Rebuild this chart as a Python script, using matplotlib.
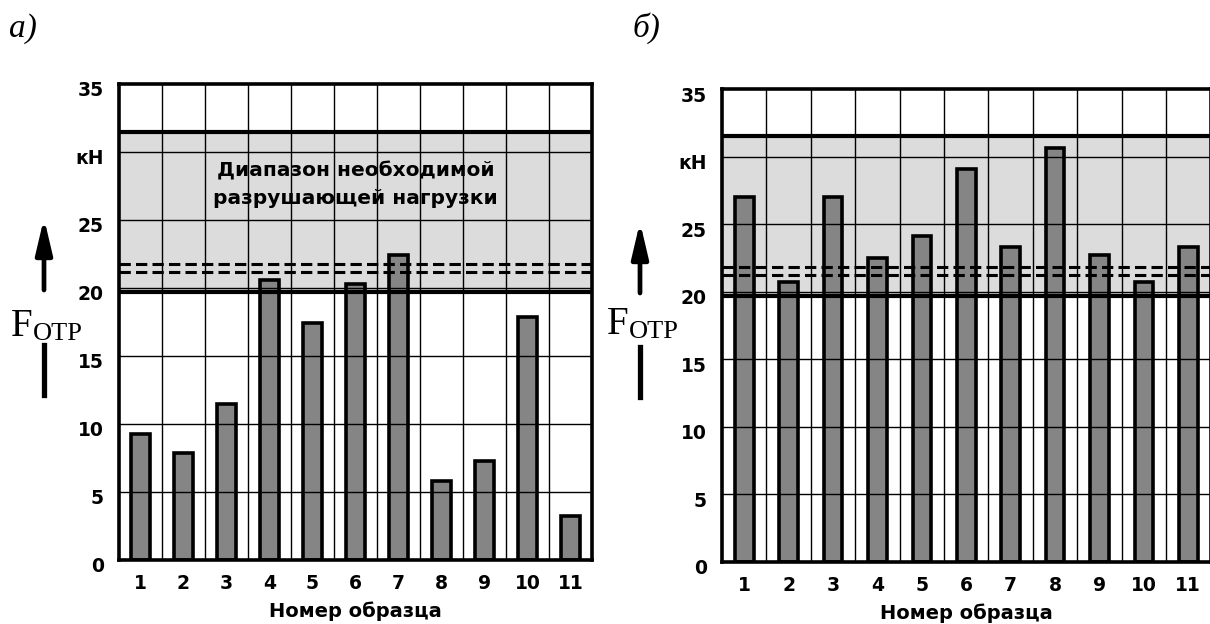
import matplotlib
matplotlib.use("Agg")
import matplotlib.pyplot as plt
from matplotlib.lines import Line2D
from matplotlib.transforms import ScaledTranslation

# sample numbers and measured breaking loads, kN
samples = [1, 2, 3, 4, 5, 6, 7, 8, 9, 10, 11]
load_a = [9.3, 7.9, 11.5, 20.6, 17.4, 20.3, 22.4, 5.8, 7.3, 17.9, 3.2]
load_b = [27.0, 20.7, 27.0, 22.5, 24.1, 29.1, 23.3, 30.6, 22.7, 20.7, 23.3]

# required load range and the two dashed reference levels
band_low, band_high = 19.7, 31.5
dashed_levels = [21.2, 21.8]

y_ticks = [0, 5, 10, 15, 20, 25, 30, 35]
y_labels = ["0", "5", "10", "15", "20", "25", "кН", "35"]
grid_y = [5, 10, 15, 20, 25, 30]

W, H = 1210, 624
fig = plt.figure(figsize=(W / 100, H / 100), dpi=100)
sans = "DejaVu Sans"


def px_rect(x0, x1, y_top, y_bot):
    return [x0 / W, 1 - y_bot / H, (x1 - x0) / W, (y_bot - y_top) / H]


def panel(rect, values, note=None):
    ax = fig.add_axes(rect)
    ax.set_xlim(0.5, 11.5)
    ax.set_ylim(0, 35)
    ax.axhspan(band_low, band_high, color="#dcdcdc", lw=0, zorder=0)
    ax.bar(samples, values, width=0.42, color="#858585",
           edgecolor="black", linewidth=2.6, zorder=2)
    for y in grid_y:
        ax.axhline(y, color="black", lw=1.0, zorder=3)
    for x in samples[:-1]:
        ax.axvline(x + 0.5, color="black", lw=1.0, zorder=3)
    ax.axhline(band_low, color="black", lw=3.0, zorder=4)
    ax.axhline(band_high, color="black", lw=3.0, zorder=4)
    for y in dashed_levels:
        ax.axhline(y, color="black", lw=2.2, ls=(0, (3.7, 1.7)), zorder=4)
    for s in ax.spines.values():
        s.set_linewidth(2.6)
        s.set_zorder(5)
    ax.set_xticks(samples)
    ax.set_xticklabels([str(s) for s in samples], fontsize=13.5,
                       fontweight="bold", family=sans)
    ax.set_yticks(y_ticks)
    ax.set_yticklabels(y_labels, fontsize=13.5, fontweight="bold", family=sans)
    ax.tick_params(length=0, axis="x", pad=10)
    ax.tick_params(length=0, axis="y", pad=11)
    shift = ScaledTranslation(0, -5 / 100, fig.dpi_scale_trans)
    for lab in ax.get_yticklabels():
        lab.set_transform(lab.get_transform() + shift)
    ax.set_xlabel("Номер образца", fontsize=14, fontweight="bold",
                  family=sans, labelpad=6)
    if note:
        ax.text(6, 27.6, note, ha="center", va="center", fontsize=14.5,
                fontweight="bold", family=sans, linespacing=1.55, zorder=6)
    return ax


ax_a = panel(px_rect(119, 592, 84, 560), load_a,
             "Диапазон необходимой\nразрушающей нагрузки")
ax_b = panel(px_rect(722, 1210.5, 89, 562), load_b)


def force_label(ax, x_px, base_px, arrow_top, arrow_bot, bar_top, bar_bot, ax_x):
    f = fig.text(x_px / W, 1 - base_px / H, "F", family="Liberation Serif",
                 fontsize=28, va="baseline", ha="left")
    ax.annotate("ОТР", xy=(1, 0), xycoords=f, family="Liberation Serif",
                fontsize=19, va="bottom", ha="left", annotation_clip=False)
    ax.annotate("", xy=(ax_x, H - arrow_top), xytext=(ax_x, H - arrow_bot),
                xycoords="figure pixels", textcoords="figure pixels",
                arrowprops=dict(arrowstyle="-|>,head_length=0.85,head_width=0.2",
                                lw=3.4, color="black", mutation_scale=25,
                                shrinkA=0, shrinkB=0))
    fig.add_artist(Line2D([ax_x / W, ax_x / W], [1 - bar_top / H, 1 - bar_bot / H],
                          transform=fig.transFigure, color="black", lw=3.8))


force_label(ax_a, 11, 336, 218, 290, 345, 395, 44)
force_label(ax_b, 607, 334, 222, 293, 347, 397, 640)

fig.text(9 / W, 1 - 37 / H, "а)", family="Liberation Serif", style="italic",
         fontsize=24, va="baseline", ha="left")
fig.text(633 / W, 1 - 37 / H, "б)", family="Liberation Serif", style="italic",
         fontsize=24, va="baseline", ha="left")

fig.savefig("out.png", dpi=100, facecolor="white")
